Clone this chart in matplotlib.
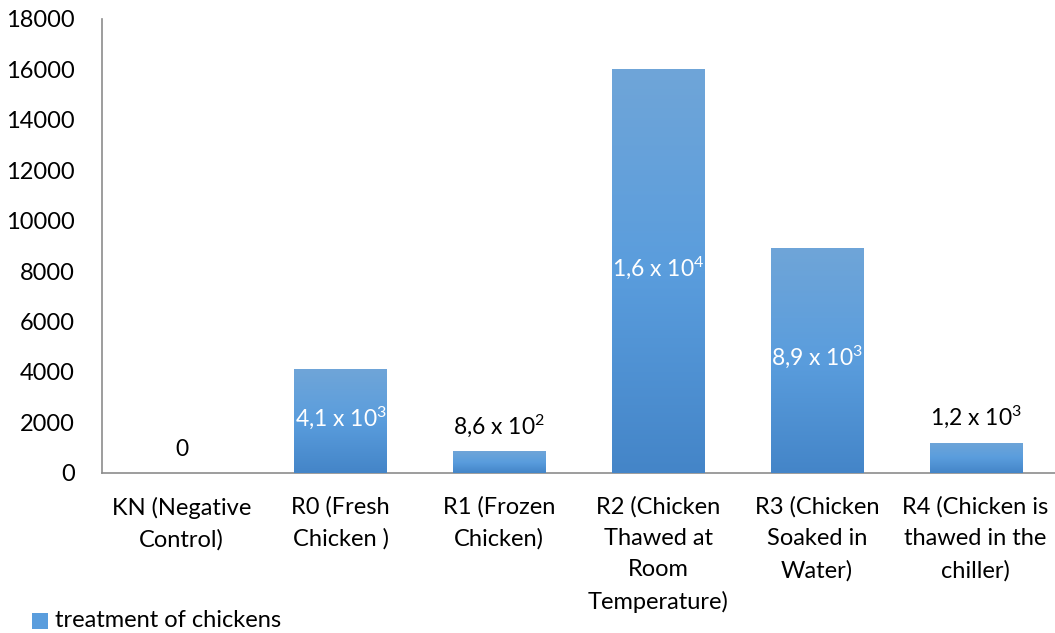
import numpy as np
import matplotlib.pyplot as plt
from matplotlib.colors import LinearSegmentedColormap

plt.rcParams['font.family'] = ['Lato', 'DejaVu Sans']
plt.rcParams['mathtext.fontset'] = 'custom'
plt.rcParams['mathtext.rm'] = 'Lato'
plt.rcParams['mathtext.default'] = 'rm'

# --- Data ---
categories = ['KN (Negative\nControl)', 'R0 (Fresh\nChicken )', 'R1 (Frozen\nChicken)',
              'R2 (Chicken\nThawed at\nRoom\nTemperature)', 'R3 (Chicken\nSoaked in\nWater)',
              'R4 (Chicken is\nthawed in the\nchiller)']
values = [0, 4100, 860, 16000, 8900, 1200]
value_labels = ['0', r'4,1 x 10$^{3}$', r'8,6 x 10$^{2}$', r'1,6 x 10$^{4}$',
                r'8,9 x 10$^{3}$', r'1,2 x 10$^{3}$']
inside = [False, True, False, True, True, False]
series_name = 'treatment of chickens'

# --- Figure ---
fig = plt.figure(figsize=(10.55, 6.33), dpi=100)
ax = fig.add_axes([0.097, 0.253, 0.903, 0.717])

x = np.arange(len(categories))
width = 0.58
grad = LinearSegmentedColormap.from_list('bluegrad', ['#4485c8', '#5a9ddd', '#6fa5d8'])

bars = ax.bar(x, values, width=width, color='#5a9ddd', zorder=2)
for b in bars:
    h = b.get_height()
    if h <= 0:
        continue
    x0 = b.get_x()
    img = ax.imshow(np.linspace(0, 1, 256).reshape(-1, 1), cmap=grad, aspect='auto',
                    origin='lower', extent=[x0, x0 + width, 0, h], zorder=3)
    img.set_clip_path(b)

for xi, v, lab, ins in zip(x, values, value_labels, inside):
    if ins:
        ax.text(xi, v / 2 + 150, lab, ha='center', va='center', color='white',
                fontsize=16.5, zorder=4)
    else:
        ax.annotate(lab, (xi, v), xytext=(0, 9), textcoords='offset points',
                    ha='center', va='bottom', color='black', fontsize=16.5, zorder=4)

ax.set_xlim(-0.5, len(categories) - 0.5)
ax.set_ylim(0, 18000)
ax.set_yticks(np.arange(0, 18001, 2000))
ax.set_xticks(x)
ax.set_xticklabels(categories, fontsize=17, linespacing=1.6)
ax.tick_params(axis='y', labelsize=17, length=0, pad=20)
ax.tick_params(axis='x', length=0, pad=17)

for s in ['top', 'right']:
    ax.spines[s].set_visible(False)
for s in ['left', 'bottom']:
    ax.spines[s].set_color('#8c8c8c')
    ax.spines[s].set_linewidth(1.2)

# legend
fig.patches.append(plt.Rectangle((0.030, 0.006), 0.0155, 0.025, transform=fig.transFigure,
                                 facecolor='#5a9ddd', edgecolor='none'))
fig.text(0.052, 0.019, series_name, fontsize=17, va='center', ha='left')

fig.savefig('out.png', dpi=100)
